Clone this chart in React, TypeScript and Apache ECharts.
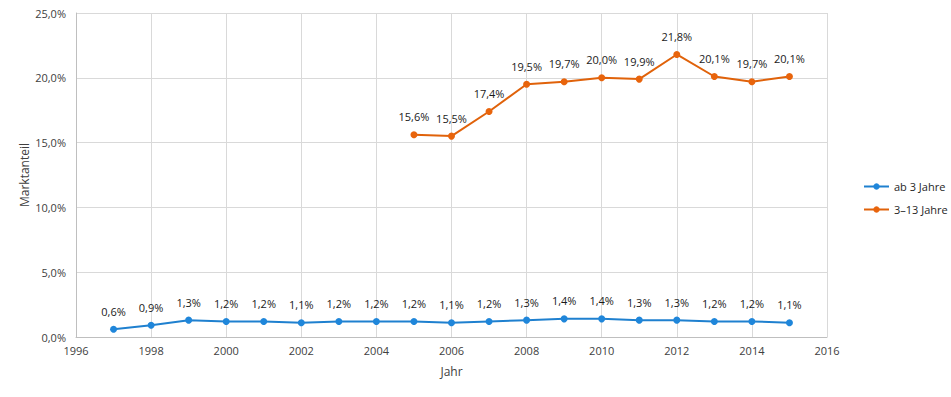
import React, { useEffect, useRef } from "react";
import * as echarts from "echarts";

const years1 = [1997, 1998, 1999, 2000, 2001, 2002, 2003, 2004, 2005, 2006, 2007, 2008, 2009, 2010, 2011, 2012, 2013, 2014, 2015];
const ab3Jahre = [0.6, 0.9, 1.3, 1.2, 1.2, 1.1, 1.2, 1.2, 1.2, 1.1, 1.2, 1.3, 1.4, 1.4, 1.3, 1.3, 1.2, 1.2, 1.1];
const years2 = [2005, 2006, 2007, 2008, 2009, 2010, 2011, 2012, 2013, 2014, 2015];
const j3bis13 = [15.6, 15.5, 17.4, 19.5, 19.7, 20.0, 19.9, 21.8, 20.1, 19.7, 20.1];
const seriesNames = ["ab 3 Jahre", "3–13 Jahre"];

const FONT = "'Open Sans', 'Noto Sans', sans-serif";
const fmt = (v: number) => `${v.toFixed(1).replace(".", ",")}%`;

export default function App() {
  const ref = useRef<HTMLDivElement>(null);
  useEffect(() => {
    if (!ref.current) return;
    const chart = echarts.init(ref.current, null, { renderer: "svg" });
    const label = {
      show: true,
      position: "top" as const,
      distance: 9,
      color: "#1a1a1a",
      fontSize: 11,
      fontFamily: FONT,
      formatter: (p: any) => fmt(p.value[1]),
    };
    chart.setOption({
      animation: false,
      backgroundColor: "#ffffff",
      textStyle: { fontFamily: FONT },
      grid: { left: 76, right: 124, top: 13, bottom: 60 },
      legend: {
        orient: "vertical",
        left: 858,
        top: 176,
        itemWidth: 25,
        itemHeight: 8,
        itemGap: 12,
        textStyle: { fontSize: 11, color: "#262626", fontFamily: FONT },
        data: seriesNames,
      },
      xAxis: {
        type: "value",
        min: 1996,
        max: 2016,
        interval: 2,
        name: "Jahr",
        nameLocation: "middle",
        nameGap: 28,
        nameTextStyle: { fontSize: 12, color: "#404040", fontFamily: FONT },
        axisLine: { show: true, lineStyle: { color: "#bfbfbf" } },
        axisTick: { show: false },
        axisLabel: { fontSize: 11, color: "#404040", margin: 8, formatter: (v: number) => String(v) },
        splitLine: { show: true, lineStyle: { color: "#d9d9d9" } },
      },
      yAxis: {
        type: "value",
        min: 0,
        max: 25,
        interval: 5,
        name: "Marktanteil",
        nameLocation: "middle",
        nameGap: 46,
        nameMoveOverlap: false,
        nameTextStyle: { fontSize: 12, color: "#404040", fontFamily: FONT },
        axisLine: { show: true, lineStyle: { color: "#bfbfbf" } },
        axisTick: { show: false },
        axisLabel: { fontSize: 11, color: "#404040", margin: 10, formatter: fmt },
        splitLine: { show: true, lineStyle: { color: "#d9d9d9" } },
      },
      series: [
        {
          name: seriesNames[0],
          type: "line",
          data: years1.map((y, i) => [y, ab3Jahre[i]]),
          symbol: "circle",
          symbolSize: 7,
          lineStyle: { width: 2, color: "#1f80cf" },
          itemStyle: { color: "#1f86da" },
          label,
        },
        {
          name: seriesNames[1],
          type: "line",
          data: years2.map((y, i) => [y, j3bis13[i]]),
          symbol: "circle",
          symbolSize: 7,
          lineStyle: { width: 2, color: "#e0620a" },
          itemStyle: { color: "#e8640c" },
          label,
        },
      ],
    });
    return () => chart.dispose();
  }, []);
  return (
    <div
      ref={ref}
      style={{ position: "fixed", left: 0, top: 0, width: 951, height: 397 }}
    />
  );
}
